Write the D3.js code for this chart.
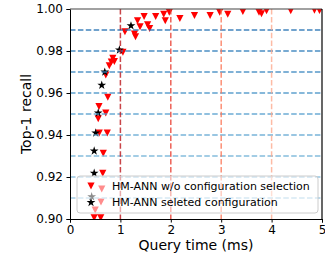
<!DOCTYPE html>
<html>
<head>
<meta charset="utf-8">
<script src="https://cdn.jsdelivr.net/npm/d3@7"></script>
<style>
  body { margin: 0; background: #fff; }
  svg { font-family: "DejaVu Sans", sans-serif; }
</style>
</head>
<body>
<svg id="chart"></svg>
<script>
// query time (ms) / recall for every configuration tried
let allTime = [0.48, 0.61, 0.63, 0.615, 0.50, 0.65, 0.66, 0.58, 0.74, 0.575, 0.56, 0.71,
    0.75, 0.71, 0.78, 0.82, 0.85, 0.88, 1.05, 1.09, 1.28, 1.30, 1.34, 1.39, 1.47, 1.54,
    1.58, 1.70, 1.86, 1.89, 1.97, 2.18, 2.47, 2.78, 2.97, 3.13, 3.43, 3.75, 3.80, 3.90,
    4.38, 4.85, 4.95];
let allRecall = [0.9006, 0.9006, 0.9143, 0.9082, 0.9043, 0.9218, 0.9313, 0.9410, 0.9410,
    0.9536, 0.9478, 0.9505, 0.9580, 0.9686, 0.9730, 0.9748, 0.9766, 0.9750, 0.9795,
    0.9892, 0.9882, 0.9868, 0.9945, 0.9916, 0.9965, 0.9925, 0.9908, 0.9965, 0.9975,
    0.9945, 0.9985, 0.9955, 0.9970, 0.9970, 0.9985, 0.9975, 0.9988, 0.9985, 0.9978,
    0.9992, 0.9992, 0.9995, 0.9993];

// selected configuration for each recall target
let selTime = [0.43, 0.48, 0.48, 0.51, 0.56, 0.63, 0.69, 0.98, 1.21];
let selRecall = [0.9106, 0.9218, 0.9324, 0.9410, 0.9505, 0.9637, 0.9700, 0.9805, 0.9920];

// reference lines
let recallTargets = [0.91, 0.92, 0.93, 0.94, 0.95, 0.96, 0.97, 0.98, 0.99];
let timeMarks = [1, 2, 3, 4];

let xTicks = [0, 1, 2, 3, 4, 5];
let yTicks = [0.90, 0.92, 0.94, 0.96, 0.98, 1.00];
let legendLabels = ["HM-ANN w/o configuration selection", "HM-ANN seleted configuration"];

function makeChart() {
    let w = 325;
    let h = 257;

    let svg = d3.select('#chart')
        .attr('width', w)
        .attr('height', h);

    let xScale = d3.scaleLinear().domain([0, 5]).range([70, 322]);
    let yScale = d3.scaleLinear().domain([0.90, 1.00]).range([219, 9]);

    svg.append('clipPath').attr('id', 'plotclip')
        .append('rect')
        .attr('x', 70).attr('y', 9)
        .attr('width', 252).attr('height', 210);

    let plot = svg.append('g').attr('clip-path', 'url(#plotclip)');

    let tri = 'M-3.6,-3.4L3.6,-3.4L0,3.6Z';
    let star = d3.symbol().type(d3.symbolStar).size(24);

    let allData = allTime.map((t, i) => ({t: t, r: allRecall[i]}));
    let selData = selTime.map((t, i) => ({t: t, r: selRecall[i]}));

    plot.selectAll('.tri')
        .data(allData)
        .enter()
        .append('path')
        .attr('class', 'tri')
        .attr('d', tri)
        .attr('fill', '#ff0000')
        .attr('transform', d => `translate(${xScale(d.t)},${yScale(d.r)})`);

    plot.selectAll('.star')
        .data(selData)
        .enter()
        .append('path')
        .attr('class', 'star')
        .attr('d', star)
        .attr('fill', '#000')
        .attr('transform', d => `translate(${xScale(d.t)},${yScale(d.r)})`);

    // horizontal recall targets
    let blue = d3.scaleLinear().domain([0.91, 0.99]).range([0.4, 0.76]);
    plot.selectAll('.hline')
        .data(recallTargets)
        .enter()
        .append('line')
        .attr('x1', 70).attr('x2', 322)
        .attr('y1', d => yScale(d)).attr('y2', d => yScale(d))
        .attr('stroke', d => d3.interpolateBlues(blue(d)))
        .attr('stroke-opacity', 0.85)
        .attr('stroke-width', 1.5)
        .attr('stroke-dasharray', '5.5,2.4');

    // vertical time marks
    let red = d3.scaleLinear().domain([1, 4]).range([0.8, 0.3]);
    plot.selectAll('.vline')
        .data(timeMarks)
        .enter()
        .append('line')
        .attr('x1', d => xScale(d)).attr('x2', d => xScale(d))
        .attr('y1', 9).attr('y2', 219)
        .attr('stroke', d => d3.interpolateReds(red(d)))
        .attr('stroke-opacity', 0.8)
        .attr('stroke-width', 1.5)
        .attr('stroke-dasharray', '5.5,2.4');

    let xAxis = d3.axisBottom(xScale)
        .tickValues(xTicks)
        .tickFormat(d3.format('d'))
        .tickSizeOuter(0)
        .tickSize(3.5)
        .tickPadding(2.5);
    svg.append('g')
        .attr('transform', `translate(0, 219)`)
        .call(xAxis);

    let yAxis = d3.axisLeft(yScale)
        .tickValues(yTicks)
        .tickFormat(d3.format('.2f'))
        .tickSizeOuter(0)
        .tickSize(3.5)
        .tickPadding(3.5);
    svg.append('g')
        .attr('transform', `translate(70, 0)`)
        .call(yAxis);

    svg.selectAll('.tick text')
        .attr('font-size', 12)
        .attr('font-family', 'DejaVu Sans')
        .attr('fill', '#000');
    svg.selectAll('.domain').attr('stroke', '#000');
    svg.selectAll('.tick line').attr('stroke', '#000');

    // top and right spines
    svg.append('line')
        .attr('x1', 70).attr('x2', 322).attr('y1', 9).attr('y2', 9)
        .attr('stroke', '#444').attr('stroke-width', 1.2);
    svg.append('line')
        .attr('x1', 322).attr('x2', 322).attr('y1', 9).attr('y2', 219)
        .attr('stroke', '#000').attr('stroke-width', 1.2);

    svg.append('text')
        .attr('x', 196).attr('y', 250)
        .attr('text-anchor', 'middle')
        .attr('font-size', 14)
        .text('Query time (ms)');

    svg.append('text')
        .attr('transform', 'translate(31, 114) rotate(-90)')
        .attr('text-anchor', 'middle')
        .attr('font-size', 14)
        .text('Top-1 recall');

    // legend
    let legend = svg.append('g');
    legend.append('rect')
        .attr('x', 77).attr('y', 176)
        .attr('width', 241).attr('height', 37)
        .attr('rx', 3)
        .attr('fill', '#fff')
        .attr('fill-opacity', 0.55)
        .attr('stroke', '#cccccc')
        .attr('stroke-width', 1);

    legend.append('path')
        .attr('d', tri)
        .attr('fill', '#ff0000')
        .attr('transform', 'translate(91, 186)');
    legend.append('path')
        .attr('d', star)
        .attr('fill', '#000')
        .attr('transform', 'translate(91, 202.5)');

    legend.selectAll('.ltext')
        .data(legendLabels)
        .enter()
        .append('text')
        .attr('x', 112)
        .attr('y', (d, i) => 190 + i * 16)
        .attr('font-size', 11)
        .text(d => d);
}

window.onload = function() {
    makeChart();
}
</script>
</body>
</html>
